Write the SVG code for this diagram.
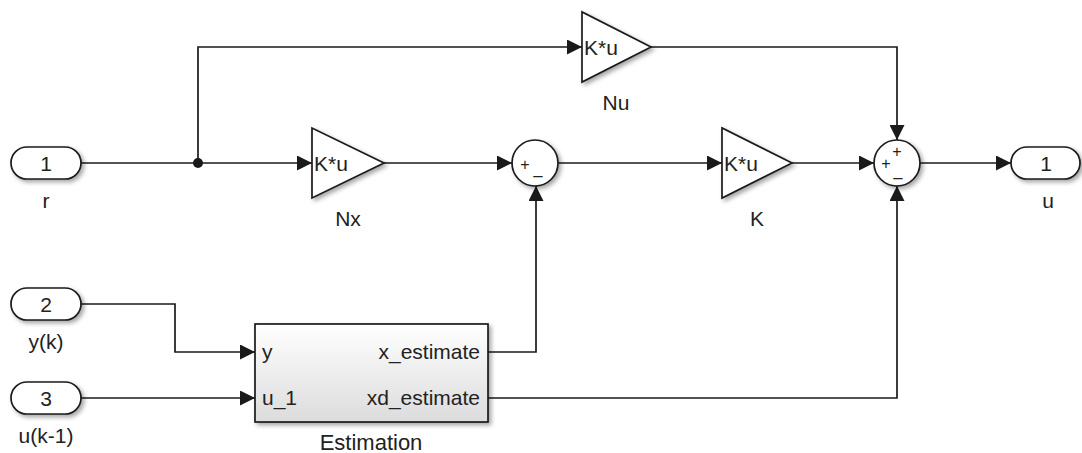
<svg xmlns="http://www.w3.org/2000/svg" width="1082" height="453" viewBox="0 0 1082 453">
<defs>
<style>
.ln{fill:none;stroke:#1a1a1a;stroke-width:1.7;marker-end:url(#ah)}
.ln0{fill:none;stroke:#1a1a1a;stroke-width:1.7}
.blk{fill:#fff;stroke:#1a1a1a;stroke-width:1.7;filter:url(#sh)}
.t{font-family:"Liberation Sans",Arial,sans-serif;font-size:21px;fill:#222}
.c{text-anchor:middle}
.s{font-family:"Liberation Sans",Arial,sans-serif;font-size:16px;fill:#222;text-anchor:middle}
</style>
<marker id="ah" markerWidth="15" markerHeight="15" refX="15" refY="7.5" orient="auto" markerUnits="userSpaceOnUse">
<path d="M0,0 L15,7.5 L0,15 z" fill="#1a1a1a"/>
</marker>
<filter id="sh" x="-20%" y="-20%" width="150%" height="150%">
<feDropShadow dx="2.5" dy="2.5" stdDeviation="2" flood-color="#000" flood-opacity="0.35"/>
</filter>
<linearGradient id="g" x1="0" y1="0" x2="0" y2="1">
<stop offset="0" stop-color="#ffffff"/>
<stop offset="1" stop-color="#dcdcdc"/>
</linearGradient>
</defs>
<rect width="1082" height="453" fill="#fff"/>

<g id="connectors">
<path class="ln0" d="M81,163 H198"/>
<path class="ln" d="M198,163 H312"/>
<path class="ln" d="M198,163 V47 H582"/>
<circle cx="198" cy="163" r="5" fill="#1a1a1a"/>
<path class="ln" d="M651,47 H897 V140"/>
<path class="ln" d="M384,163 H512"/>
<path class="ln" d="M558,163 H722"/>
<path class="ln" d="M792,163 H874"/>
<path class="ln" d="M920,163 H1011"/>
<path class="ln" d="M81,304 H175 V352 H255"/>
<path class="ln" d="M81,398 H255"/>
<path class="ln" d="M488,352 H536 V186"/>
<path class="ln" d="M488,398 H897 V186"/>
</g>

<g id="in1">
<rect class="blk" x="11" y="147" width="70" height="32" rx="16"/>
<text class="t c" x="46" y="171">1</text>
<text class="t c" x="46" y="208">r</text>
</g>
<g id="in2">
<rect class="blk" x="11" y="288" width="70" height="32" rx="16"/>
<text class="t c" x="46" y="312">2</text>
<text class="t c" x="46" y="349">y(k)</text>
</g>
<g id="in3">
<rect class="blk" x="11" y="382" width="70" height="32" rx="16"/>
<text class="t c" x="46" y="406">3</text>
<text class="t c" x="46" y="443">u(k-1)</text>
</g>

<g id="Nu">
<path class="blk" d="M582,12 L582,82 L651,47 z"/>
<text class="t" x="584" y="55">K*u</text>
<text class="t c" x="616" y="110">Nu</text>
</g>
<g id="Nx">
<path class="blk" d="M312,128 L312,198 L384,163 z"/>
<text class="t" x="314" y="171">K*u</text>
<text class="t c" x="348" y="226">Nx</text>
</g>
<g id="K">
<path class="blk" d="M722,128 L722,198 L792,163 z"/>
<text class="t" x="724" y="171">K*u</text>
<text class="t c" x="757" y="226">K</text>
</g>

<g id="sum1">
<circle class="blk" cx="535" cy="163" r="23"/>
<text class="s" x="525" y="170">+</text>
<text class="s" x="538" y="174">_</text>
</g>
<g id="sum2">
<circle class="blk" cx="897" cy="163" r="23"/>
<text class="s" x="897" y="157">+</text>
<text class="s" x="886" y="169">+</text>
<text class="s" x="898" y="176">_</text>
</g>

<g id="out1">
<rect class="blk" x="1011" y="147" width="69" height="32" rx="16"/>
<text class="t c" x="1046" y="171">1</text>
<text class="t c" x="1048" y="208">u</text>
</g>

<g id="Estimation">
<rect class="blk" x="255" y="324" width="233" height="98" style="fill:url(#g)"/>
<text class="t" x="262" y="359">y</text>
<text class="t" x="262" y="405">u_1</text>
<text class="t" x="480" y="359" text-anchor="end">x_estimate</text>
<text class="t" x="480" y="405" text-anchor="end">xd_estimate</text>
<text class="t c" x="371" y="450" style="font-size:22px">Estimation</text>
</g>
</svg>
